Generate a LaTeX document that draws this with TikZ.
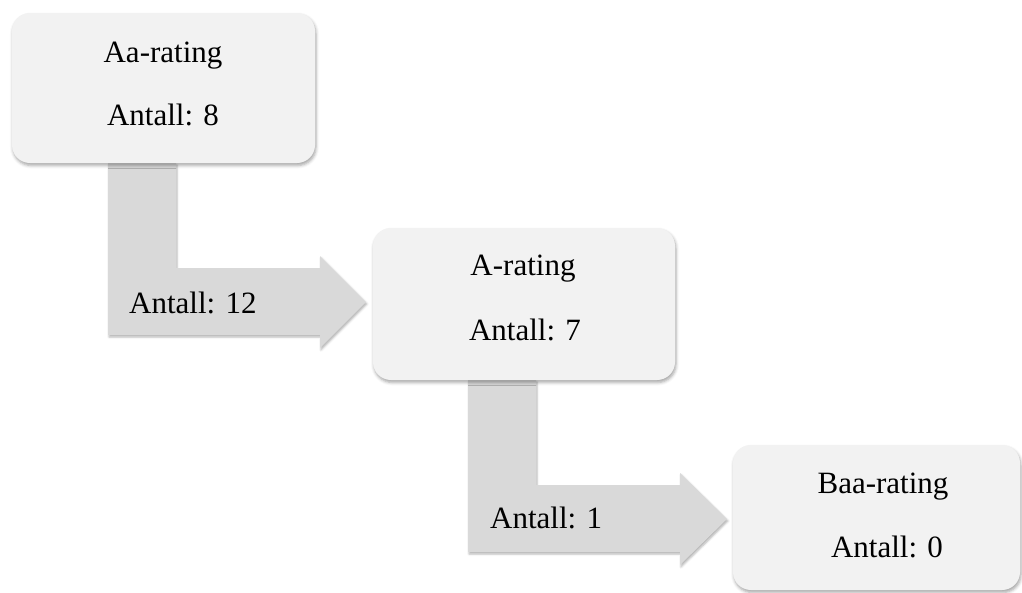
\documentclass[tikz,border=0pt]{standalone}
\usepackage{fontspec}
\setmainfont{Liberation Serif}
\usetikzlibrary{shadows.blur}
\definecolor{boxgray}{HTML}{F2F2F2}
\definecolor{arrowgray}{HTML}{D9D9D9}
\begin{document}
\begin{tikzpicture}[x=1pt,y=-1pt,
  every node/.style={inner sep=0pt,font=\fontsize{31}{37}\selectfont},
  ratingbox/.style={rounded corners=18pt,fill=boxgray,minimum width=303pt,minimum height=150pt,
    blur shadow={shadow xshift=1pt,shadow yshift=-2.5pt,shadow blur radius=3pt,shadow opacity=35}},
  bentarrow/.style={fill=arrowgray,
    blur shadow={shadow xshift=1pt,shadow yshift=-2pt,shadow blur radius=2pt,shadow opacity=30}}]
\useasboundingbox (0,0) rectangle (1022,592);
% bent arrows
\fill[bentarrow] (108,163) -- (176,163) -- (176,268) -- (320,268) -- (320,256) -- (366,302) -- (320,348) -- (320,335) -- (108,335) -- cycle;
\fill[bentarrow] (468,380) -- (536,380) -- (536,485) -- (680,485) -- (680,473) -- (727,519) -- (680,565) -- (680,552) -- (468,552) -- cycle;
\node[anchor=base west] (aatoa) at (129,313) {Antall: 12};
\node[anchor=base west] (atobaa) at (490,528) {Antall: 1};
% rating boxes
\node[ratingbox] (aa) at (163.5,88) {};
\node[anchor=base] (aaname) at (163,62) {Aa-rating};
\node[anchor=base] (aacount) at (163,125) {Antall: 8};
\node[ratingbox,minimum width=302pt,minimum height=152pt] (a) at (524,304) {};
\node[anchor=base] (aname) at (523,275) {A-rating};
\node[anchor=base] (acount) at (525,340) {Antall: 7};
\node[ratingbox,minimum width=287pt,minimum height=145pt] (baa) at (876.5,517.5) {};
\node[anchor=base] (baaname) at (883,493) {Baa-rating};
\node[anchor=base] (baacount) at (887,557) {Antall: 0};
\end{tikzpicture}
\end{document}
